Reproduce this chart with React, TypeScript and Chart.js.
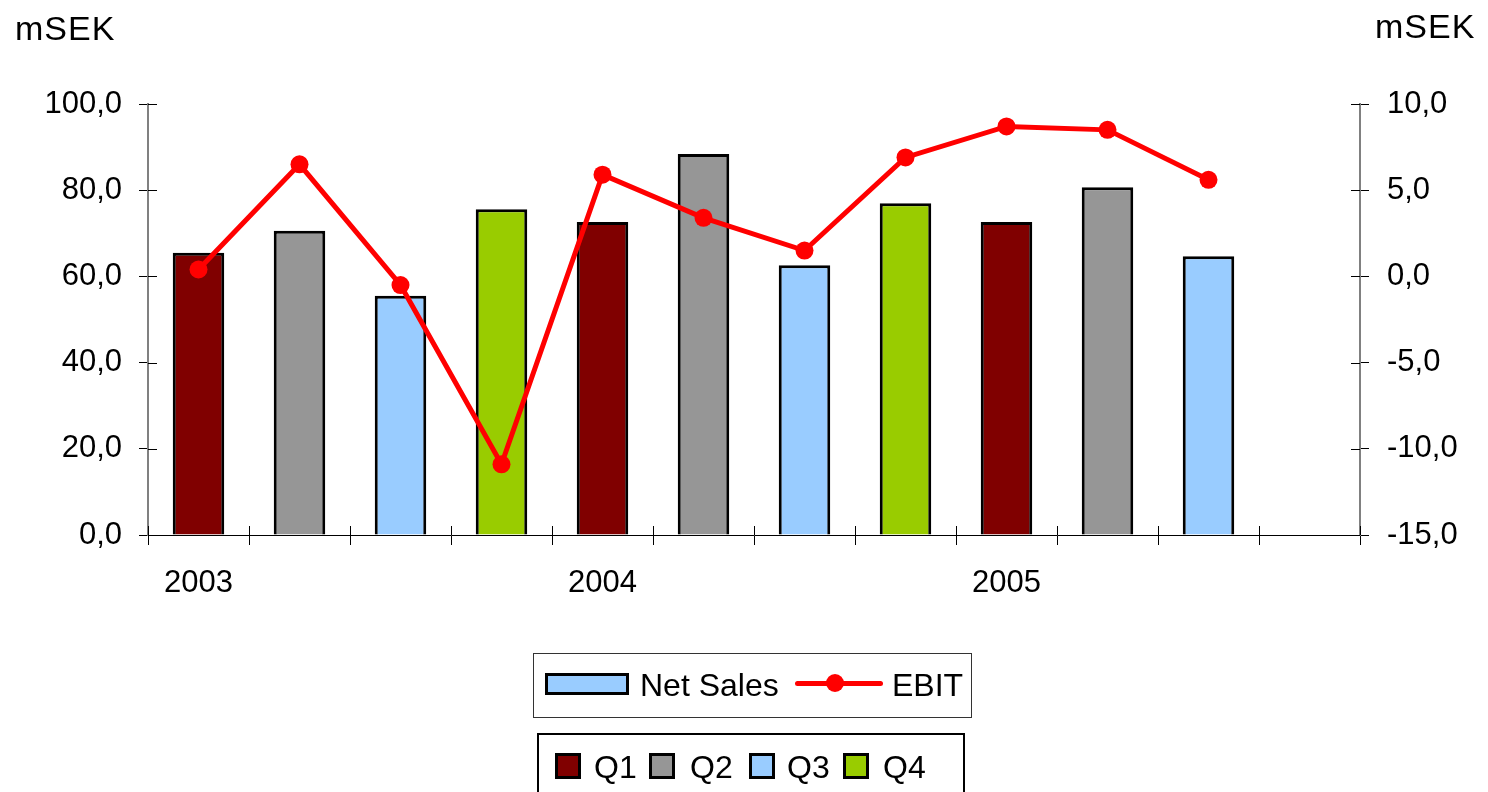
import React, { useEffect, useRef } from "react";
import { Chart, registerables } from "chart.js";

Chart.register(...registerables);

const categories = ["2003", "", "", "", "2004", "", "", "", "2005", "", "", ""];
const netSales = [65.5, 70.6, 55.5, 75.6, 72.6, 88.4, 62.6, 77.0, 72.6, 80.7, 64.7, null];
const ebit = [0.4, 6.5, -0.5, -10.9, 5.9, 3.4, 1.5, 6.9, 8.7, 8.5, 5.6, null];
const quarterColors = ["#800000", "#969696", "#99CCFF", "#99CC00"];
const quarterLabels = ["Q1", "Q2", "Q3", "Q4"];
const leftTicks = [0, 20, 40, 60, 80, 100];
const rightTicks = [-15, -10, -5, 0, 5, 10];

const FONT = "'Liberation Sans', Arial, sans-serif";
const fmt = (v: number) => v.toFixed(1).replace(".", ",");

const innerTicks = {
  id: "innerTicks",
  afterDraw(chart: any) {
    const ctx = chart.ctx;
    const area = chart.chartArea;
    ctx.save();
    ctx.lineWidth = 1;
    ctx.strokeStyle = "#000";
    const y = chart.scales.y;
    y.ticks.forEach((_t: any, i: number) => {
      const py = Math.round(y.getPixelForTick(i)) + 0.5;
      ctx.beginPath();
      ctx.moveTo(area.left, py);
      ctx.lineTo(area.left + 9, py);
      ctx.stroke();
    });
    const y1 = chart.scales.y1;
    y1.ticks.forEach((_t: any, i: number) => {
      const py = Math.round(y1.getPixelForTick(i)) + 0.5;
      ctx.beginPath();
      ctx.moveTo(area.right - 9, py);
      ctx.lineTo(area.right, py);
      ctx.stroke();
    });
    const n = categories.length;
    for (let i = 0; i <= n; i++) {
      const px = Math.round(area.left + ((area.right - area.left) * i) / n) + 0.5;
      ctx.beginPath();
      ctx.moveTo(px, area.bottom - 9);
      ctx.lineTo(px, area.bottom);
      ctx.stroke();
    }
    ctx.restore();
  },
};

export default function App() {
  const ref = useRef<HTMLCanvasElement | null>(null);
  useEffect(() => {
    if (!ref.current) return;
    const chart = new Chart(ref.current, {
      type: "bar",
      data: {
        labels: categories,
        datasets: [
          {
            type: "line",
            label: "EBIT",
            data: ebit,
            yAxisID: "y1",
            borderColor: "#FF0000",
            backgroundColor: "#FF0000",
            borderWidth: 5,
            pointRadius: 9,
            pointHoverRadius: 9,
            pointBackgroundColor: "#FF0000",
            pointBorderColor: "#FF0000",
            pointBorderWidth: 0,
            tension: 0,
            order: 1,
          } as any,
          {
            type: "bar",
            label: "Net Sales",
            data: netSales,
            yAxisID: "y",
            backgroundColor: netSales.map((_, i) => quarterColors[i % 4]),
            borderColor: "#000",
            borderWidth: 3,
            borderSkipped: "bottom",
            barPercentage: 0.51,
            categoryPercentage: 1,
            order: 2,
          } as any,
        ],
      },
      options: {
        responsive: false,
        animation: false,
        layout: { padding: { top: 104, left: 0, right: 0, bottom: 0 } },
        plugins: { legend: { display: false }, tooltip: { enabled: false } },
        scales: {
          x: {
            type: "category",
            offset: true,
            grid: {
              offset: true,
              drawOnChartArea: false,
              drawTicks: true,
              tickLength: 10,
              color: "#000",
            },
            border: { color: "#000", width: 1 },
            ticks: {
              color: "#000",
              font: { family: FONT, size: 31 },
              padding: 20,
              autoSkip: false,
              maxRotation: 0,
            },
            afterFit: (s: any) => {
              s.height = 257;
            },
          },
          y: {
            position: "left",
            min: 0,
            max: 100,
            afterBuildTicks: (s: any) => {
              s.ticks = leftTicks.map((v) => ({ value: v }));
            },
            ticks: {
              color: "#000",
              font: { family: FONT, size: 31 },
              padding: 17,
              callback: (v: any) => fmt(Number(v)),
            },
            grid: { drawOnChartArea: false, tickLength: 9, color: "#000" },
            border: { color: "#808080", width: 2 },
            afterFit: (s: any) => {
              s.width = 148;
            },
          },
          y1: {
            position: "right",
            min: -15,
            max: 10,
            afterBuildTicks: (s: any) => {
              s.ticks = rightTicks.map((v) => ({ value: v }));
            },
            ticks: {
              color: "#000",
              font: { family: FONT, size: 31 },
              padding: 18,
              callback: (v: any) => fmt(Number(v)),
            },
            grid: { drawOnChartArea: false, tickLength: 9, color: "#000" },
            border: { color: "#808080", width: 2 },
            afterFit: (s: any) => {
              s.width = 128;
            },
          },
        },
      } as any,
      plugins: [innerTicks],
    });
    return () => chart.destroy();
  }, []);

  const text: React.CSSProperties = {
    position: "absolute",
    fontFamily: FONT,
    fontSize: 32,
    lineHeight: "32px",
    color: "#000",
    whiteSpace: "nowrap",
  };
  const title: React.CSSProperties = { ...text, fontSize: 34, lineHeight: "34px", letterSpacing: 1 };

  return (
    <div style={{ position: "absolute", left: 0, top: 0, width: 1488, height: 792, overflow: "hidden", background: "#fff" }}>
      <canvas ref={ref} width={1488} height={792} style={{ position: "absolute", left: 0, top: 0, width: 1488, height: 792 }} />
      <div style={{ ...title, left: 15, top: 11 }}>mSEK</div>
      <div style={{ ...title, left: 1375, top: 9 }}>mSEK</div>

      <div style={{ position: "absolute", left: 533, top: 653, width: 437, height: 63, border: "1px solid #333" }} />
      <div style={{ position: "absolute", left: 545, top: 673, width: 78, height: 16, background: "#99CCFF", border: "3px solid #000" }} />
      <div style={{ ...text, left: 640, top: 669 }}>Net Sales</div>
      <div style={{ position: "absolute", left: 795, top: 681, width: 88, height: 5, background: "#FF0000", borderRadius: 3 }} />
      <div style={{ position: "absolute", left: 826, top: 674, width: 18, height: 18, background: "#FF0000", borderRadius: 9 }} />
      <div style={{ ...text, left: 892, top: 669 }}>EBIT</div>

      <div style={{ position: "absolute", left: 537, top: 733, width: 424, height: 80, border: "2px solid #000" }} />
      {quarterLabels.map((q, i) => {
        const sx = [555, 649, 749, 843][i];
        const tx = [594, 690, 787, 883][i];
        return (
          <React.Fragment key={q}>
            <div style={{ position: "absolute", left: sx, top: 753, width: 20, height: 20, background: quarterColors[i], border: "3px solid #000", boxSizing: "content-box" }} />
            <div style={{ ...text, left: tx, top: 751 }}>{q}</div>
          </React.Fragment>
        );
      })}
    </div>
  );
}
